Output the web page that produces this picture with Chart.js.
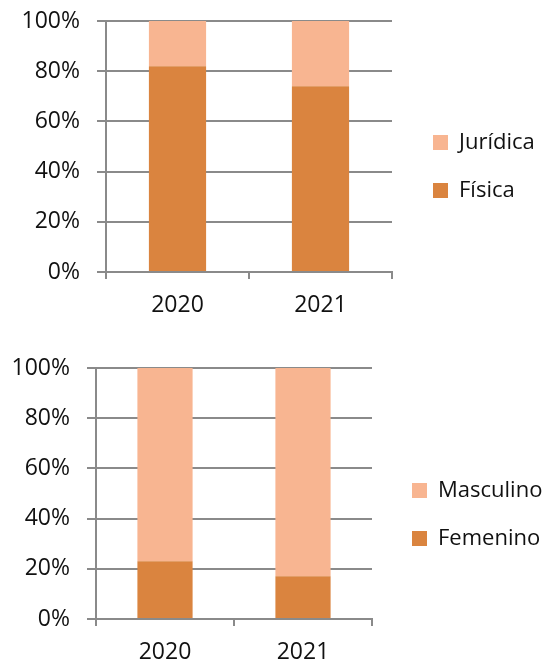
<!DOCTYPE html>
<html>
<head>
<meta charset="utf-8">
<script src="https://cdn.jsdelivr.net/npm/chart.js@4.4.1/dist/chart.umd.min.js"></script>
<style>
  body { margin: 0; background: #fff; }
  #cntr { position: relative; width: 547px; height: 665px; }
  .grafica { position: absolute; left: 0; }
</style>
</head>
<body>
<div id="cntr">
  <div class="grafica" style="top:0px"><canvas id="graf1" width="547" height="330"></canvas></div>
  <div class="grafica" style="top:335px"><canvas id="graf2" width="547" height="330"></canvas></div>
</div>
<script>
// Datos
const anios = ['2020', '2021'];
const fisica = [82, 74];
const juridica = [18, 26];
const femenino = [23, 17];
const masculino = [77, 83];
const ticks_pct = [0, 20, 40, 60, 80, 100];

// Colores
const naranja = '#DA843F';
const naranja_claro = '#F8B591';
const gris = '#8a8a8a';

Chart.defaults.font.family = "'Open Sans', sans-serif";
Chart.defaults.font.size = 23;
Chart.defaults.color = '#111';

// Plugin para fijar el ancho de la leyenda y moverla como en el original
const moverLeyenda = {
  id: 'moverLeyenda',
  beforeLayout(chart, args, opts) {
    const lg = chart.legend;
    if (!lg || lg._fijada) return;
    const fitOriginal = lg.fit;
    lg.fit = function () {
      fitOriginal.call(this);
      this.width = opts.ancho;
    };
    lg._fijada = true;
  },
  afterLayout(chart, args, opts) {
    const lg = chart.legend;
    if (!lg) return;
    lg.left += opts.dx; lg.right += opts.dx;
    lg.top += opts.dy; lg.bottom += opts.dy;
  }
};

/**
 * * Construye una gráfica de barras apiladas al 100%
 */
function crear_grafica(id, series, cfg) {
  new Chart(document.getElementById(id), {
    type: 'bar',
    data: {
      labels: anios,
      datasets: series.map(s => ({
        label: s.nombre,
        data: s.datos,
        backgroundColor: s.color,
        borderWidth: 0,
        categoryPercentage: 1,
        barPercentage: 0.4
      }))
    },
    options: {
      responsive: false,
      animation: false,
      layout: { padding: { top: cfg.top, left: 0, right: 0, bottom: 0 } },
      plugins: {
        tooltip: { enabled: false },
        legend: {
          position: 'right',
          reverse: true,
          labels: { boxWidth: 15, boxHeight: 15, padding: 26, color: '#111', font: { size: 22 } }
        },
        moverLeyenda: { ancho: cfg.legendW, dx: cfg.dx, dy: cfg.dy }
      },
      scales: {
        x: {
          stacked: true,
          offset: true,
          afterFit: s => { s.height = cfg.xH; s.paddingLeft = 0; s.paddingRight = 0; },
          grid: { offset: true, drawOnChartArea: false, drawTicks: true, tickLength: 7, color: gris, lineWidth: 2 },
          border: { display: true, color: gris, width: 2 },
          ticks: { padding: 13, maxRotation: 0 }
        },
        y: {
          stacked: true,
          min: 0,
          max: 100,
          afterFit: s => { s.width = cfg.axisW; s.paddingTop = 0; s.paddingBottom = 0; },
          afterBuildTicks: s => { s.ticks = ticks_pct.map(v => ({ value: v })); },
          grid: { color: gris, lineWidth: 2, drawTicks: true, tickLength: 9 },
          border: { display: true, color: gris, width: 2 },
          ticks: { padding: 17, callback: v => v + '%' }
        }
      }
    },
    plugins: [moverLeyenda]
  });
}

crear_grafica('graf1', [
  { nombre: 'Física', datos: fisica, color: naranja },
  { nombre: 'Jurídica', datos: juridica, color: naranja_claro }
], { top: 21, xH: 58, axisW: 106, legendW: 155, dx: 15, dy: -9 });

crear_grafica('graf2', [
  { nombre: 'Femenino', datos: femenino, color: naranja },
  { nombre: 'Masculino', datos: masculino, color: naranja_claro }
], { top: 33, xH: 46, axisW: 96, legendW: 175, dx: 14, dy: -2 });
</script>
</body>
</html>
